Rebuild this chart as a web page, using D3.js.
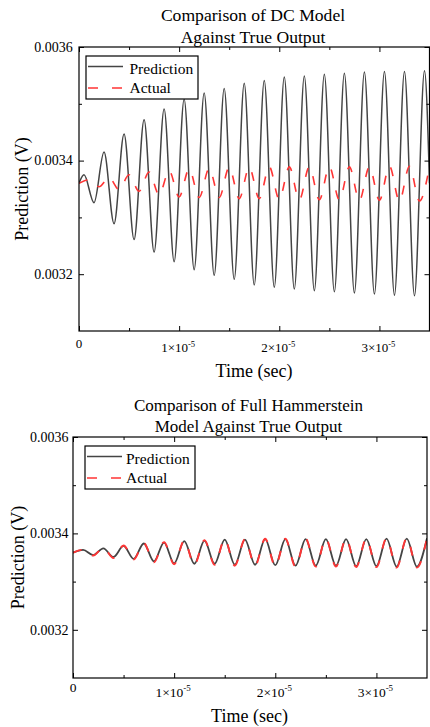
<!DOCTYPE html>
<html><head><meta charset="utf-8">
<script src="https://cdn.jsdelivr.net/npm/d3@7"></script>
<style>
body{margin:0;background:#fff}
svg{display:block;font-family:"Liberation Serif","Times New Roman",serif}
</style>
</head><body>
<svg id="chart" width="430" height="727"></svg>
<script>
// ---------------- data ----------------
const seriesNames = ["Prediction", "Actual"];
const titleTop = ["Comparison of DC Model", "Against True Output"];
const titleBottom = ["Comparison of Full Hammerstein", "Model Against True Output"];
const xAxisTitle = "Time (sec)";
const yAxisTitle = "Prediction (V)";
const xDomain = [0, 3.5e-5];
const yDomain = [0.0031, 0.0036];
const xTickValues = [0, 1e-5, 2e-5, 3e-5];
const xTickLabels = ["0", "1×10^-5", "2×10^-5", "3×10^-5"];
const xMinorTicks = [0.5e-5, 1.5e-5, 2.5e-5];
const yTickValues = [0.0032, 0.0034, 0.0036];
const yTickLabels = ["0.0032", "0.0034", "0.0036"];
const yMinorTicks = [0.0033, 0.0035];

// DC model prediction: time (µs) at each turning point, voltage (V)
const dcTimeUs = [0, 0.5, 1.5, 2.5, 3.5, 4.5, 5.5, 6.5, 7.5, 8.5, 9.5, 10.5, 11.5, 12.5, 13.5,
  14.5, 15.5, 16.5, 17.5, 18.5, 19.5, 20.5, 21.5, 22.5, 23.5, 24.5, 25.5, 26.5, 27.5, 28.5,
  29.5, 30.5, 31.5, 32.5, 33.5, 34.5, 35];
const dcPrediction = [0.003360, 0.003375, 0.003326, 0.003415, 0.003289, 0.003447, 0.003261,
  0.003472, 0.003239, 0.003491, 0.003222, 0.003508, 0.003208, 0.003519, 0.003198, 0.003527,
  0.003191, 0.003536, 0.003181, 0.003541, 0.003177, 0.003547, 0.003174, 0.003549, 0.003171,
  0.003552, 0.003169, 0.003554, 0.003167, 0.003556, 0.003165, 0.003557, 0.003163, 0.003557,
  0.003162, 0.003558, 0.003360];

// True output and Full Hammerstein prediction: time (µs), voltage (V)
const actualTimeUs = [0, 1, 2, 3, 4, 5, 6, 7, 8, 9, 10, 11, 12, 13, 14, 15, 16, 17, 18, 19,
  20, 21, 22, 23, 24, 25, 26, 27, 28, 29, 30, 31, 32, 33, 34, 35];
const actualOutput = [0.003360, 0.003366, 0.003354, 0.003370, 0.003349, 0.003375, 0.003346,
  0.003380, 0.003340, 0.003382, 0.003336, 0.003385, 0.003335, 0.003386, 0.003335, 0.003388,
  0.003333, 0.003388, 0.003333, 0.003389, 0.003332, 0.003389, 0.003331, 0.003389, 0.003331,
  0.003389, 0.003331, 0.003389, 0.003330, 0.003389, 0.003330, 0.003390, 0.003329, 0.003390,
  0.003329, 0.003390];
const hammersteinPrediction = [0.003360, 0.003366, 0.003355, 0.003369, 0.003351, 0.003374,
  0.003347, 0.003379, 0.003342, 0.003381, 0.003338, 0.003384, 0.003337, 0.003385, 0.003337,
  0.003387, 0.003335, 0.003387, 0.003335, 0.003388, 0.003334, 0.003388, 0.003333, 0.003388,
  0.003333, 0.003388, 0.003333, 0.003388, 0.003332, 0.003388, 0.003332, 0.003389, 0.003331,
  0.003389, 0.003331, 0.003390];

const zip = (ts, vs) => ts.map((t, i) => ({t: t * 1e-6, v: vs[i]}));

// ---------------- drawing ----------------
const svg = d3.select("#chart");

function panel(cfg) {
  const g = svg.append("g");
  const x = d3.scaleLinear().domain(xDomain).range([cfg.left, cfg.right]);
  const y = d3.scaleLinear().domain(yDomain).range([cfg.bottom, cfg.top]);

  const clipId = "clip" + cfg.id;
  g.append("clipPath").attr("id", clipId).append("rect")
    .attr("x", cfg.left).attr("y", cfg.top)
    .attr("width", cfg.right - cfg.left).attr("height", cfg.bottom - cfg.top);

  const line = d3.line().x(d => x(d.t)).y(d => y(d.v)).curve(d3.curveMonotoneX);
  const plot = g.append("g").attr("clip-path", `url(#${clipId})`);
  plot.append("path").datum(cfg.pred).attr("d", line)
    .attr("fill", "none").attr("stroke", "#444").attr("stroke-width", cfg.lw);
  plot.append("path").datum(cfg.act).attr("d", line)
    .attr("fill", "none").attr("stroke", "#ff3535").attr("stroke-width", cfg.lw + 0.1)
    .attr("stroke-dasharray", "9,12");

  // ticks (inward, all four sides)
  const mk = (axis, tr, vals, size) => {
    const a = g.append("g").attr("transform", tr)
      .call(axis.tickValues(vals).tickSize(-size).tickFormat(""));
    a.select(".domain").remove();
    a.selectAll("line").attr("stroke", "#000").attr("stroke-width", 1);
  };
  mk(d3.axisBottom(x), `translate(0,${cfg.bottom})`, xTickValues, 5);
  mk(d3.axisBottom(x), `translate(0,${cfg.bottom})`, xMinorTicks, 3);
  mk(d3.axisTop(x), `translate(0,${cfg.top})`, xTickValues, 5);
  mk(d3.axisTop(x), `translate(0,${cfg.top})`, xMinorTicks, 3);
  mk(d3.axisLeft(y), `translate(${cfg.left},0)`, yTickValues, 5);
  mk(d3.axisLeft(y), `translate(${cfg.left},0)`, yMinorTicks, 3);
  mk(d3.axisRight(y), `translate(${cfg.right},0)`, yTickValues, 5);
  mk(d3.axisRight(y), `translate(${cfg.right},0)`, yMinorTicks, 3);

  // frame
  g.append("rect").attr("x", cfg.left).attr("y", cfg.top)
    .attr("width", cfg.right - cfg.left).attr("height", cfg.bottom - cfg.top)
    .attr("fill", "none").attr("stroke", "#000").attr("stroke-width", 1.2);

  // x tick labels
  xTickValues.forEach((v, i) => {
    const parts = xTickLabels[i].split("^");
    const t = g.append("text").attr("text-anchor", "middle")
      .attr("x", x(v) + (parts[1] ? -1 : 0))
      .attr("y", parts[1] ? cfg.xLabExpBase : cfg.xLabBase)
      .attr("font-size", cfg.xTickFont).attr("fill", "#000");
    t.append("tspan").text(parts[0]);
    if (parts[1]) t.append("tspan").attr("font-size", "0.66em").attr("dy", "-0.6em").text(parts[1]);
  });
  // y tick labels
  yTickValues.forEach((v, i) => {
    g.append("text").attr("text-anchor", "end")
      .attr("x", cfg.yLabX).attr("y", y(v) + 4.7)
      .attr("font-size", 14).attr("fill", "#000").text(yTickLabels[i]);
  });

  // titles
  cfg.title.forEach((s, i) => {
    g.append("text").attr("text-anchor", "middle").attr("x", cfg.titleX)
      .attr("y", cfg.titleBase[i]).attr("font-size", cfg.titleFont).attr("fill", "#000").text(s);
  });
  g.append("text").attr("text-anchor", "middle").attr("x", cfg.xTitleX)
    .attr("y", cfg.xTitleBase).attr("font-size", 18).attr("fill", "#000").text(xAxisTitle);
  g.append("text").attr("text-anchor", "middle")
    .attr("transform", `translate(${cfg.yTitleX},${(cfg.top + cfg.bottom) / 2}) rotate(-90)`)
    .attr("font-size", 18).attr("fill", "#000").text(yAxisTitle);

  // legend
  const L = cfg.legend;
  g.append("rect").attr("x", L.x).attr("y", L.y).attr("width", L.w).attr("height", L.h)
    .attr("fill", "#fff").attr("stroke", "#000").attr("stroke-width", 1.2);
  g.append("line").attr("x1", L.x + 2).attr("x2", L.x + 37).attr("y1", L.y + 10.5).attr("y2", L.y + 10.5)
    .attr("stroke", "#444").attr("stroke-width", 1.4);
  g.append("line").attr("x1", L.x + 2).attr("x2", L.x + 37).attr("y1", L.y + 32).attr("y2", L.y + 32)
    .attr("stroke", "#ff3535").attr("stroke-width", 1.5).attr("stroke-dasharray", "10,14");
  seriesNames.forEach((s, i) => {
    g.append("text").attr("x", L.tx).attr("y", L.y + (i ? 36.7 : 18))
      .attr("font-size", 15.5).attr("fill", "#000").text(s);
  });
}

panel({
  id: "a", left: 79, right: 429.5, top: 47, bottom: 331, lw: 1.5,
  pred: zip(dcTimeUs, dcPrediction), act: zip(actualTimeUs, actualOutput),
  xLabBase: 347.5, xLabExpBase: 351.7, xTickFont: 13, yLabX: 72.8,
  title: titleTop, titleX: 253, titleBase: [20.8, 42.5], titleFont: 17.6,
  xTitleX: 254, xTitleBase: 376.5, yTitleX: 27.5,
  legend: {x: 86, y: 56, w: 112, h: 43, tx: 129.5}
});
panel({
  id: "b", left: 73, right: 427, top: 437, bottom: 678, lw: 1.8,
  pred: zip(actualTimeUs, hammersteinPrediction), act: zip(actualTimeUs, actualOutput),
  xLabBase: 691.5, xLabExpBase: 696.5, xTickFont: 13.5, yLabX: 68.5,
  title: titleBottom, titleX: 248.5, titleBase: [410.7, 431.7], titleFont: 17,
  xTitleX: 249.5, xTitleBase: 721.5, yTitleX: 23.5,
  legend: {x: 85, y: 446, w: 110, h: 43, tx: 126}
});
</script>
</body></html>
